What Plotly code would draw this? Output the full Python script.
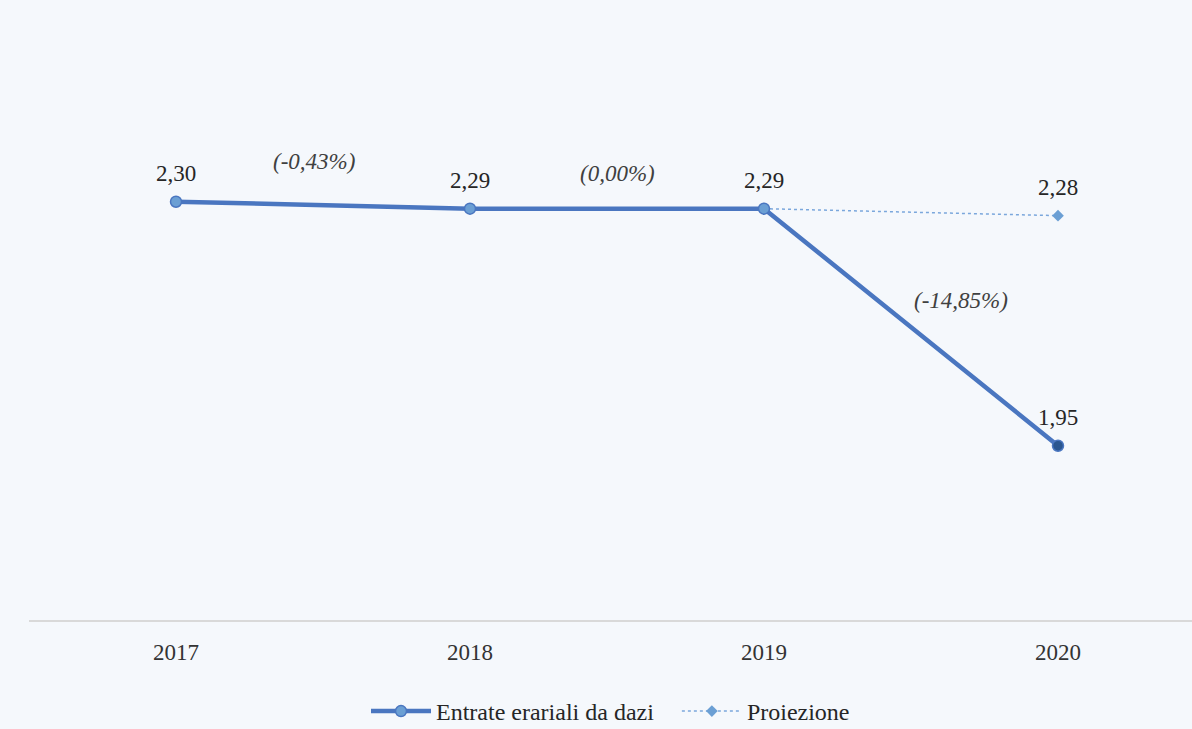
import plotly.graph_objects as go

# ---- data ----
years = [2017, 2018, 2019, 2020]
entrate = [2.30, 2.29, 2.29, 1.95]
proiezione_years = [2019, 2020]
proiezione = [2.29, 2.28]
pct_labels = ["(-0,43%)", "(0,00%)", "(-14,85%)"]
# label anchor positions (layout only)
pct_pos_x = [2017.47, 2018.5, 2019.67]
pct_pos_y = [2.357, 2.340, 2.158]

FONT = "Liberation Serif"
BG = "#f5f8fc"
MAIN = "#4a76c0"


def fmt(v):
    return f"{v:.2f}".replace(".", ",")


fig = go.Figure()

fig.add_trace(go.Scatter(
    x=proiezione_years, y=proiezione, mode="lines+markers",
    name="Proiezione",
    line=dict(color="#7ba7dc", width=1.5, dash="dot"),
    marker=dict(symbol="diamond", size=9, color="#6b9fd4"),
))

fig.add_trace(go.Scatter(
    x=years, y=entrate, mode="lines+markers",
    name="Entrate erariali da dazi   ",
    line=dict(color=MAIN, width=4.5),
    marker=dict(size=11, color=["#6b9fd4", "#6b9fd4", "#6b9fd4", "#2a5690"],
                line=dict(color=MAIN, width=1.5)),
))

annotations = []
for x, y in zip(years, entrate):
    annotations.append(dict(x=x, y=y, text=fmt(y), showarrow=False, yshift=28,
                            font=dict(family=FONT, size=23, color="#262626")))
annotations.append(dict(x=proiezione_years[-1], y=proiezione[-1], text=fmt(proiezione[-1]),
                        showarrow=False, yshift=28,
                        font=dict(family=FONT, size=23, color="#262626")))
for t, x, y in zip(pct_labels, pct_pos_x, pct_pos_y):
    annotations.append(dict(x=x, y=y, text=f"<i>{t}</i>", showarrow=False,
                            font=dict(family=FONT, size=23, color="#404040")))

fig.update_layout(
    width=1192, height=729,
    margin=dict(l=29, r=0, t=132, b=109),
    paper_bgcolor=BG, plot_bgcolor=BG,
    font=dict(family=FONT, size=19, color="#333333"),
    showlegend=True,
    legend=dict(orientation="h", x=0.5, xanchor="center", yref="container",
                y=0.024, yanchor="middle", font=dict(family=FONT, size=24, color="#262626"),
                traceorder="reversed", bgcolor="rgba(0,0,0,0)", itemwidth=60),
    annotations=annotations,
    xaxis=dict(range=[2016.5, 2016.5 + 1163 / 294], tickvals=years,
               ticktext=[str(y) for y in years], showgrid=False, zeroline=False,
               showline=True, linecolor="#d9d9d9", linewidth=2,
               ticks="outside", ticklen=10, tickcolor="rgba(0,0,0,0)",
               tickfont=dict(family=FONT, size=23, color="#333333")),
    yaxis=dict(range=[1.70, 2.40], visible=False, showgrid=False, zeroline=False),
)

fig.write_html("out.html", config={"displayModeBar": False},
               post_script="document.body.style.margin='0';document.body.style.background='" + BG + "';")
